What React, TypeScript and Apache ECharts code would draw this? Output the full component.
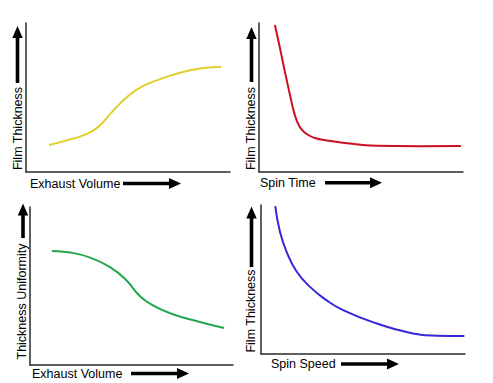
import React, { useEffect, useRef } from "react";
import * as echarts from "echarts";

// Panel 1: Film Thickness vs Exhaust Volume
const exhaustThicknessX = [11.3, 20, 28, 35, 42, 49.5, 57, 66, 76, 86, 95.6];
const exhaustThicknessY = [18.1, 21.2, 24.6, 29.8, 40, 50.3, 57.4, 62.5, 66.8, 69.6, 70.5];
// Panel 2: Film Thickness vs Spin Time
const spinTimeX = [7.8, 10.3, 12.7, 15.2, 17.2, 19.5, 22.5, 27.5, 33, 42, 57.4, 78, 99];
const spinTimeY = [98.7, 83, 67.3, 51.7, 40, 31.5, 26.3, 22.8, 21.2, 19.5, 17.6, 17.3, 17.4];
// Panel 3: Thickness Uniformity vs Exhaust Volume
const uniformityX = [10.8, 20, 30, 39.4, 47, 54.2, 61, 70, 83.7, 95.6];
const uniformityY = [72.2, 71.2, 67.8, 62, 54.3, 43.5, 37.5, 32.3, 27.2, 23.4];
// Panel 4: Film Thickness vs Spin Speed
const spinSpeedX = [7, 9.2, 12.4, 17.3, 23.9, 32, 40.2, 56.5, 72.9, 85.9, 99.7];
const spinSpeedY = [99.3, 82.6, 69.1, 55.7, 45.2, 36.2, 29.5, 20.6, 14.3, 12.3, 12.1];

const xLabels = ["Exhaust Volume", "Spin Time", "Exhaust Volume", "Spin Speed"];
const yLabels = ["Film Thickness", "Film Thickness", "Thickness Uniformity", "Film Thickness"];
const colors = ["#E2CF2C", "#CC1020", "#22A84A", "#3428D8"];

const FONT = "'Liberation Sans', Arial, Helvetica, sans-serif";

function zip(xs: number[], ys: number[]) {
  return xs.map((x, i) => [x, ys[i]]);
}

function vArrow(cx: number, tip: number, bottom: number) {
  return [
    { type: "rect", shape: { x: cx - 1.8, y: tip + 10, width: 3.6, height: bottom - tip - 10 }, style: { fill: "#000" } },
    { type: "polygon", shape: { points: [[cx, tip], [cx - 5.2, tip + 12], [cx + 5.2, tip + 12]] }, style: { fill: "#000" } },
  ];
}
function hArrow(cy: number, left: number, tip: number) {
  return [
    { type: "rect", shape: { x: left, y: cy - 1.8, width: tip - left - 10, height: 3.6 }, style: { fill: "#000" } },
    { type: "polygon", shape: { points: [[tip, cy], [tip - 12, cy - 5.5], [tip - 12, cy + 5.5]] }, style: { fill: "#000" } },
  ];
}
function txt(text: string, x: number, y: number, rotate: boolean) {
  return {
    type: "text",
    x,
    y,
    rotation: rotate ? Math.PI / 2 : 0,
    style: {
      text,
      fill: "#000",
      font: `12.5px ${FONT}`,
      align: rotate ? "center" : "left",
      verticalAlign: "middle",
    },
  };
}

export default function App() {
  const ref = useRef<HTMLDivElement>(null);
  useEffect(() => {
    if (!ref.current) return;
    const chart = echarts.init(ref.current, undefined, { renderer: "svg" });
    const grids = [
      { left: 26, top: 23, width: 204, height: 149 },
      { left: 259, top: 23, width: 204, height: 149 },
      { left: 30, top: 207, width: 203, height: 158 },
      { left: 261, top: 205, width: 204, height: 149 },
    ];
    const axisLine = { show: true, onZero: false, lineStyle: { color: "#2a2a2a", width: 1.5 } };
    const datasets = [
      zip(exhaustThicknessX, exhaustThicknessY),
      zip(spinTimeX, spinTimeY),
      zip(uniformityX, uniformityY),
      zip(spinSpeedX, spinSpeedY),
    ];
    const yLabelPos = [
      [17.5, 128.5],
      [251.3, 128.5],
      [21.5, 301.5],
      [251.3, 311],
    ];
    const xLabelPos = [
      [30, 184],
      [260, 183],
      [32, 374],
      [271, 364],
    ];
    const graphic: any[] = [
      ...vArrow(17.5, 26, 83),
      ...hArrow(183.5, 123, 181),
      ...vArrow(251.5, 27, 82),
      ...hArrow(182.7, 325, 382),
      ...vArrow(23, 203.5, 238),
      ...hArrow(373.5, 131, 189),
      ...vArrow(251.5, 206.5, 267),
      ...hArrow(364, 341, 399),
    ];
    for (let i = 0; i < 4; i++) {
      graphic.push(txt(yLabels[i], yLabelPos[i][0], yLabelPos[i][1], true));
      graphic.push(txt(xLabels[i], xLabelPos[i][0], xLabelPos[i][1], false));
    }
    chart.setOption({
      animation: false,
      backgroundColor: "#fff",
      grid: grids,
      xAxis: grids.map((_, i) => ({
        type: "value",
        gridIndex: i,
        min: 0,
        max: 100,
        axisLine,
        axisTick: { show: false },
        axisLabel: { show: false },
        splitLine: { show: false },
      })),
      yAxis: grids.map((_, i) => ({
        type: "value",
        gridIndex: i,
        min: 0,
        max: 100,
        axisLine,
        axisTick: { show: false },
        axisLabel: { show: false },
        splitLine: { show: false },
      })),
      series: datasets.map((d, i) => ({
        type: "line",
        xAxisIndex: i,
        yAxisIndex: i,
        data: d,
        smooth: 0.5,
        showSymbol: false,
        lineStyle: { color: colors[i], width: 2 },
      })),
      graphic,
    });
    return () => chart.dispose();
  }, []);
  return (
    <div
      ref={ref}
      style={{ position: "fixed", left: 0, top: 0, width: 493, height: 383, background: "#fff" }}
    />
  );
}
